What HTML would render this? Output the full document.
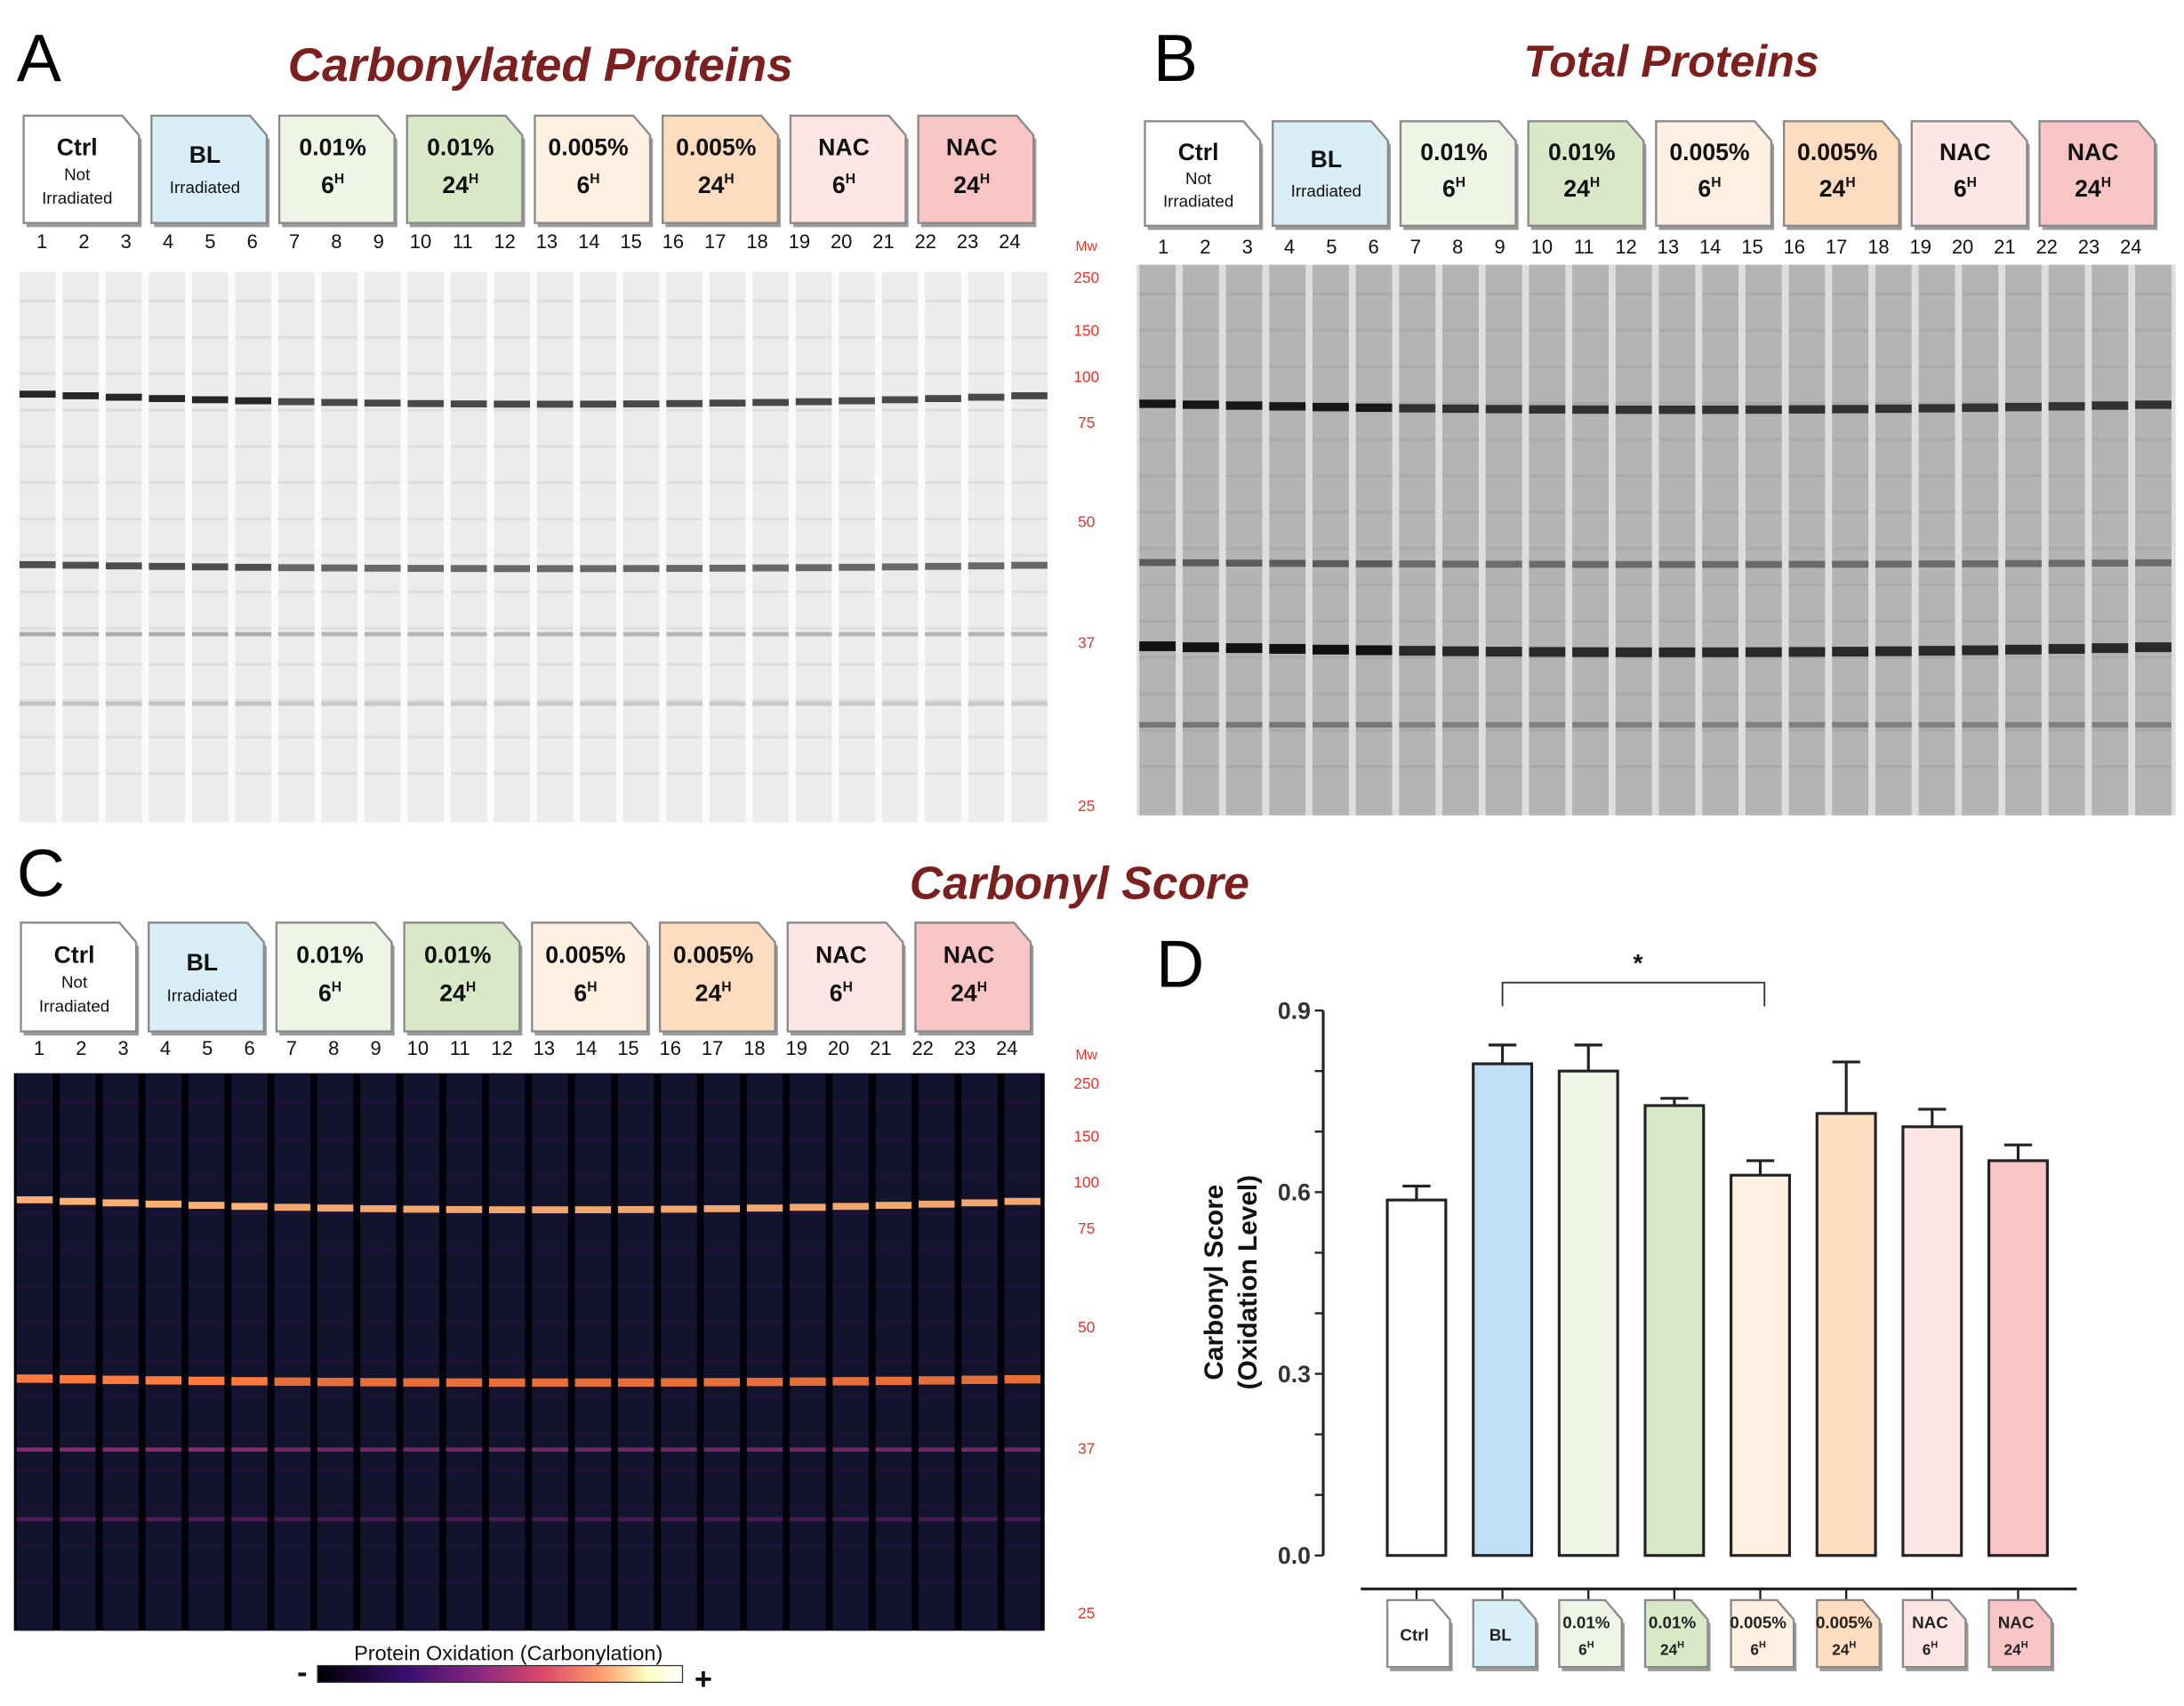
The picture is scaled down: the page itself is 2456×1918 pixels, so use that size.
<!DOCTYPE html>
<html><head><meta charset="utf-8"><style>
html,body{margin:0;padding:0;background:#fff;}
svg{display:block;}
text{font-family:"Liberation Sans",sans-serif;}
</style></head><body>
<svg id="fig" width="2456" height="1918" viewBox="0 0 1568 1224" preserveAspectRatio="none" xmlns="http://www.w3.org/2000/svg">
<defs>
<linearGradient id="cbar" x1="0" x2="1" y1="0" y2="0">
<stop offset="0" stop-color="#000004"/><stop offset="0.25" stop-color="#3b0f70"/><stop offset="0.45" stop-color="#8c2981"/><stop offset="0.62" stop-color="#de4968"/><stop offset="0.78" stop-color="#fe9f6d"/><stop offset="0.9" stop-color="#fcfdbf"/><stop offset="1" stop-color="#ffffff"/>
</linearGradient>
</defs>
<g id="root"></g>
</svg>
<script>
// ---- Chart D data ----
const categories = ["Ctrl","BL","0.01% 6H","0.01% 24H","0.005% 6H","0.005% 24H","NAC 6H","NAC 24H"];
const means = [0.587,0.812,0.800,0.743,0.628,0.730,0.708,0.652];
const errors = [0.023,0.031,0.043,0.012,0.024,0.085,0.029,0.026];
const yTicks = [0.0,0.3,0.6,0.9];
const yTickLabels = ["0.0","0.3","0.6","0.9"];
const barColors = ["#ffffff","#bfe0f5","#eef5e6","#d9e8c7","#fff0e2","#fddcbf","#fde6e4","#f7c5c5"];
const boxColors = ["#ffffff","#d9eff8","#eef5e6","#d9e8c7","#fff0e2","#fddcbf","#fde6e4","#f7c5c5"];
const boxL1 = ["Ctrl","BL","0.01%","0.01%","0.005%","0.005%","NAC","NAC"];
const boxL2 = ["Not","","6","24","6","24","6","24"];
const mwLabels = ["Mw","250","150","100","75","50","37","25"];

const NS="http://www.w3.org/2000/svg";
const root=document.getElementById('root');
function el(tag,attrs,parent,txt){const e=document.createElementNS(NS,tag);for(const k in attrs)e.setAttribute(k,attrs[k]);if(txt!==undefined)e.textContent=txt;(parent||root).appendChild(e);return e;}

function panelLetter(t,x,y){const e=el('text',{x:x,y:y,'font-size':48,fill:'#000'},root,t);

}
function title(t,x,y,size){const e=el('text',{x:x,y:y,'font-size':size,'font-weight':'bold','font-style':'italic',fill:'#7b1f1f','text-anchor':'middle'},root,t);

}

function labelBox(g,x,y,w,h,i,small){
  const c=12;
  el('path',{d:`M${x+2},${y+3} h${w-c} l${c},${c+2} v${h-c-2} h${-w} z`,fill:'#9a9a9a'},g);
  el('path',{d:`M${x},${y} h${w-c} l${c},${c+2} v${h-c-2} h${-w} z`,fill:boxColors[i],stroke:'#8a8a8a','stroke-width':1.5},g);
  const cx=x+w/2-3;
  const fs=small?12:17;
  if(small){
    if(i<2){el('text',{x:cx,y:y+h/2+5,'font-size':fs,'font-weight':'bold','text-anchor':'middle',fill:'#222'},g,boxL1[i]);}
    else{el('text',{x:cx,y:y+h*0.42,'font-size':fs,'font-weight':'bold','text-anchor':'middle',fill:'#222'},g,boxL1[i]);
      const t=el('text',{x:cx,y:y+h*0.82,'font-size':fs-1,'font-weight':'bold','text-anchor':'middle',fill:'#222'},g,boxL2[i]);
      el('tspan',{'font-size':7,dy:-5},t,'H');}
    return;
  }
  if(i===0){el('text',{x:cx,y:y+h*0.37,'font-size':fs,'font-weight':'bold','text-anchor':'middle',fill:'#111'},g,'Ctrl');
    el('text',{x:cx,y:y+h*0.6,'font-size':12,'text-anchor':'middle',fill:'#111'},g,'Not');
    el('text',{x:cx,y:y+h*0.82,'font-size':12,'text-anchor':'middle',fill:'#111'},g,'Irradiated');}
  else if(i===1){el('text',{x:cx,y:y+h*0.44,'font-size':fs,'font-weight':'bold','text-anchor':'middle',fill:'#111'},g,'BL');
    el('text',{x:cx,y:y+h*0.72,'font-size':12,'text-anchor':'middle',fill:'#111'},g,'Irradiated');}
  else{el('text',{x:cx,y:y+h*0.37,'font-size':fs,'font-weight':'bold','text-anchor':'middle',fill:'#111'},g,boxL1[i]);
    const t=el('text',{x:cx,y:y+h*0.72,'font-size':fs,'font-weight':'bold','text-anchor':'middle',fill:'#111'},g,boxL2[i]);
    el('tspan',{'font-size':10,dy:-7},t,'H');}
}
function header(x0,x1,y,h,numY,name){
  const g=el('g',{});
  
  
  const gap=9, w=(x1-x0-gap*7)/8;
  for(let i=0;i<8;i++)labelBox(g,x0+i*(w+gap),y,w,h,i,false);
  const step=(x1-x0)/24;
  for(let n=0;n<24;n++)el('text',{x:x0+step*(n+0.5)-2,y:numY,'font-size':14,'text-anchor':'middle',fill:'#111'},g,String(n+1));
}
function mw(x,ys,name){
  const g=el('g',{});
  
  
  ys.forEach((y,i)=>el('text',{x:x,y:y,'font-size':i===0?10:11,'text-anchor':'middle',fill:'#e8322a'},g,mwLabels[i]));
}
function gel(x0,x1,y0,y1,dark,bands,name,bgcol,lanecol){
  const g=el('g',{});
  
  
  el('rect',{x:x0,y:y0,width:x1-x0,height:y1-y0,fill:bgcol},g);
  const step=(x1-x0)/24;
  for(let n=0;n<24;n++){
    const lx=x0+n*step+2, lw=step-5;
    el('rect',{x:lx,y:y0,width:lw,height:y1-y0,fill:lanecol},g);
    for(let k=0;k<14;k++){const yy=y0+20+k*(y1-y0-30)/14;
      el('rect',{x:lx,y:yy,width:lw,height:2,fill:dark?'#2a1040':'#000',opacity:dark?0.5:0.06},g);}
    bands.forEach(b=>{const yy=b.y+(n-12)*(n-12)*b.curve;
      el('rect',{x:lx,y:yy-b.h/2,width:lw,height:b.h,fill:b.col,opacity:Math.min(1,b.op*(n<6?1.2:1))},g);});
  }
}
// Panel A
panelLetter('A',12,58);
title('Carbonylated Proteins',388,58,34);
header(17,742,83,77,178,'header-a');
gel(12,755,195,590,false,[{y:290,h:5,col:'#111',op:0.75,curve:-0.05},{y:408,h:5,col:'#111',op:0.6,curve:-0.02},{y:455,h:3,col:'#333',op:0.3,curve:0},{y:505,h:3,col:'#444',op:0.2,curve:0}],'gel-a','#fbfbfb','#ececec');
mw(780,[180,203,241,274,307,378,465,582],'mw-labels-a');
// Panel B
panelLetter('B',828,58);
title('Total Proteins',1200,55,32);
header(822,1547,87,75,182,'header-b');
gel(816,1562,190,585,false,[{y:294,h:6,col:'#111',op:0.8,curve:-0.03},{y:405,h:5,col:'#222',op:0.5,curve:-0.01},{y:468,h:7,col:'#111',op:0.85,curve:-0.03},{y:520,h:4,col:'#333',op:0.4,curve:0}],'gel-b','#dedede','#b4b4b4');
// Panel C
panelLetter('C',12,643);
title('Carbonyl Score',775,645,33);
header(15,740,662,78,757,'header-c');
gel(10,750,770,1170,true,[{y:868,h:5,col:'#ffb070',op:0.95,curve:-0.05},{y:992,h:6,col:'#ff7a3c',op:0.9,curve:-0.02},{y:1040,h:3,col:'#a0307a',op:0.7,curve:0},{y:1090,h:3,col:'#7a2070',op:0.5,curve:0}],'gel-c','#02010a','#12142e');
mw(780,[760,781,819,852,885,956,1043,1161],'mw-labels-c');
// colorbar
(function(){const g=el('g',{});


el('text',{x:365,y:1191,'font-size':15,'text-anchor':'middle',fill:'#111'},g,'Protein Oxidation (Carbonylation)');
el('rect',{x:228,y:1195,width:262,height:12,fill:'url(#cbar)',stroke:'#333','stroke-width':0.8},g);
el('text',{x:217,y:1207,'font-size':22,'font-weight':'bold','text-anchor':'middle',fill:'#111'},g,'-');
el('text',{x:505,y:1212,'font-size':22,'font-weight':'bold','text-anchor':'middle',fill:'#111'},g,'+');})();

// Panel D chart
panelLetter('D',830,708);
const X0=1017, XS=61.7, BW=42;
const yScale=v=>1116-(v/0.9)*(1116-725);
const xScale=i=>X0+i*XS;
const d=el('g',{});


const ax=el('line',{x1:950,y1:725,x2:950,y2:1116,stroke:'#222','stroke-width':2},d);


for(let k=0;k<=9;k++){const yy=yScale(k*0.1);el('line',{x1:944,y1:yy,x2:950,y2:yy,stroke:'#222','stroke-width':1.5},d);}
yTicks.forEach((v,i)=>{const t=el('text',{x:941,y:yScale(v)+6,'font-size':17,'font-weight':'bold','text-anchor':'end',fill:'#333'},d,yTickLabels[i]);

});
const yt=el('text',{transform:'translate(878,920) rotate(-90)','font-size':19,'font-weight':'bold','text-anchor':'middle',fill:'#111'},d);


el('tspan',{x:0,y:0},yt,'Carbonyl Score');
el('tspan',{x:0,y:24},yt,'(Oxidation Level)');
means.forEach((v,i)=>{const cx=xScale(i);
  const top=yScale(v+errors[i]);
  const eb=el('path',{d:`M${cx},${yScale(v)} V${top} M${cx-10},${top} H${cx+10}`,stroke:'#222','stroke-width':2,fill:'none'},d);
  
  
  const r=el('rect',{x:cx-BW/2,y:yScale(v),width:BW,height:1116-yScale(v),fill:barColors[i],stroke:'#222','stroke-width':2},d);
  
  
});
const br=el('path',{d:`M${xScale(1)},722 V705 H${xScale(4)+3} V722`,stroke:'#333','stroke-width':1.2,fill:'none'},d);


const st=el('text',{x:1176,y:697,'font-size':18,'font-weight':'bold','text-anchor':'middle',fill:'#111'},d,'*');


const xa=el('line',{x1:977,y1:1140,x2:1491,y2:1140,stroke:'#222','stroke-width':2},d);


categories.forEach((c,i)=>{const cx=xScale(i);
  el('line',{x1:cx,y1:1140,x2:cx,y2:1148,stroke:'#222','stroke-width':1.5},d);
  const g=el('g',{},d);
  
  
  labelBox(g,cx-21,1148,45,48,i,true);
});
</script>
</body></html>
